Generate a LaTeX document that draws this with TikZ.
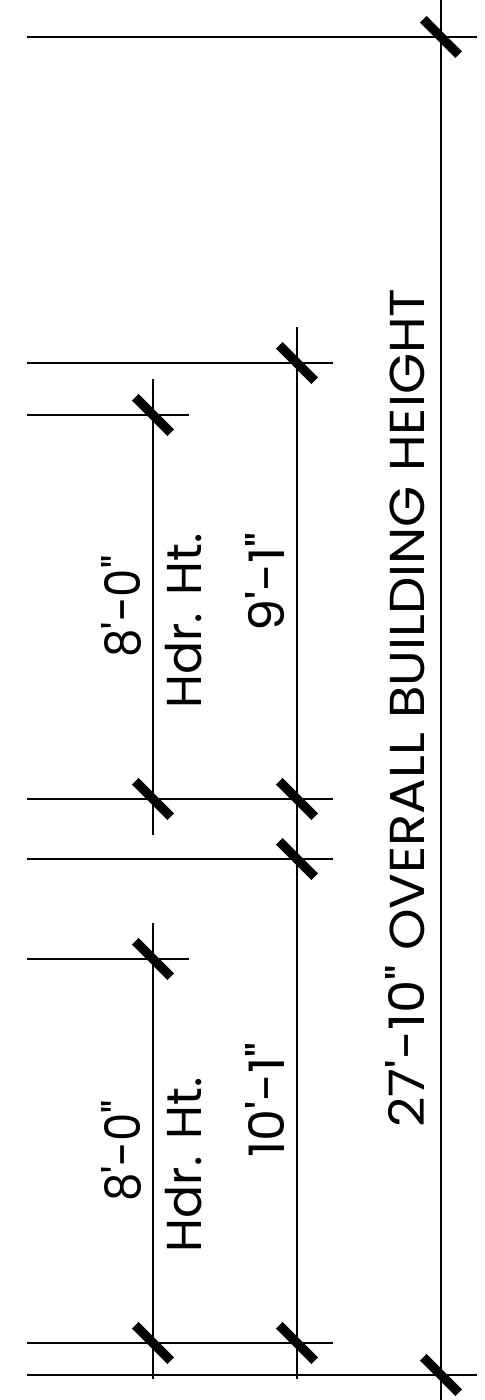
\documentclass[tikz,border=0pt]{standalone}
\usepackage{fontspec}
\newfontfamily\gothic[FakeStretch=1.04]{Poppins}
\newfontfamily\gothicwide[FakeStretch=1.08]{Poppins}
\newfontfamily\gothicmid[FakeStretch=1.0]{Poppins}
\newfontfamily\gothicnarrow[FakeStretch=0.92]{Poppins}
\tikzset{
  dimline/.style={line width=0.75pt,black},
  tick/.style={line width=4.75pt,black,line cap=butt},
  lbl/.style={rotate=90,anchor=base,inner sep=0pt,font=\gothic\fontsize{24.5pt}{24.5pt}\selectfont},
  lblwide/.style={lbl,font=\gothicwide\fontsize{24.5pt}{24.5pt}\selectfont},
  lblmid/.style={lbl,font=\gothicmid\fontsize{24.5pt}{24.5pt}\selectfont},
  lblnarrow/.style={lbl,font=\gothicnarrow\fontsize{24.5pt}{24.5pt}\selectfont}
}
\begin{document}
\begin{tikzpicture}[x=0.5pt,y=-0.5pt]
\useasboundingbox (0,0) rectangle (485,1400);
% extension lines
\foreach \y in {363,799,859,1343} \draw[dimline] (27,\y) -- (333,\y);
\foreach \y in {415,959} \draw[dimline] (27,\y) -- (189,\y);
\foreach \y in {37,1375} \draw[dimline] (27,\y) -- (477,\y);
% dimension lines
\draw[dimline] (153,379) -- (153,835);
\draw[dimline] (153,923) -- (153,1379);
\draw[dimline] (297,327) -- (297,1379);
\draw[dimline] (441,0) -- (441,1400);
% ticks
\foreach \x/\y in {441/37,297/363,153/415,153/799,297/799,297/859,153/959,153/1343,297/1343,441/1375}
  {\draw[tick] (\x-17.7,\y-17.7) -- (\x+17.7,\y+17.7);}
% labels
\node[lblnarrow] (a) at (140,1151) {8'-0"};
\node[lblmid] (b) at (201,1164.5) {Hdr. Ht.};
\node[lbl] (c) at (284,1100) {10'-1"};
\node[lblnarrow] (d) at (140,606.5) {8'-0"};
\node[lblmid] (e) at (201,621) {Hdr. Ht.};
\node[lbl] (f) at (284,582) {9'-1"};
\node[lblwide] (g) at (424,708) {27'-10" OVERALL BUILDING HEIGHT};
\end{tikzpicture}
\end{document}
